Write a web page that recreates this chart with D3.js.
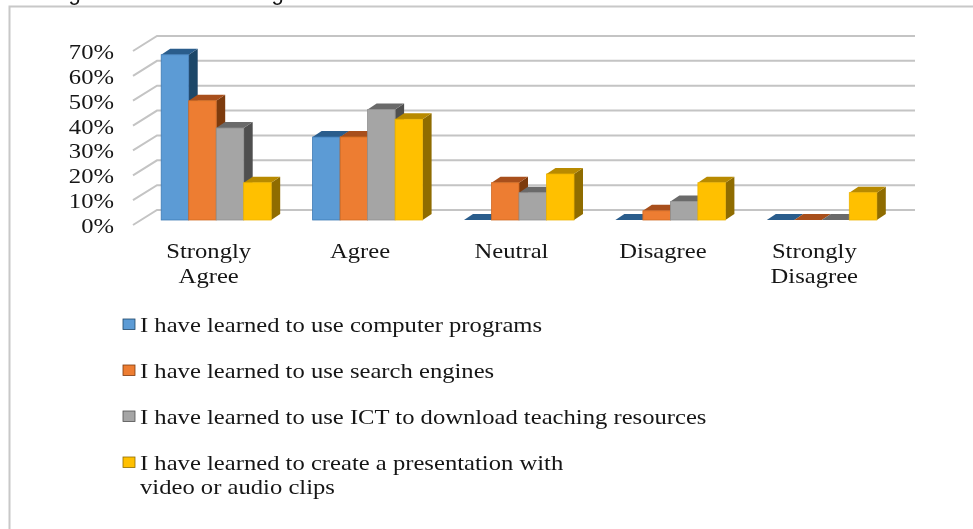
<!DOCTYPE html>
<html>
<head>
<meta charset="utf-8">
<script src="https://cdn.jsdelivr.net/npm/d3@7"></script>
<style>
  html, body { margin: 0; padding: 0; background: #fff; }
  svg { display: block; }
  text { font-family: "Liberation Serif", serif; fill: #141414; }
</style>
</head>
<body>
<div id="chart"></div>
<script>
const categories = ['Strongly Agree', 'Agree', 'Neutral', 'Disagree', 'Strongly Disagree']
const categoryLines = [['Strongly', 'Agree'], ['Agree'], ['Neutral'], ['Disagree'], ['Strongly', 'Disagree']]
const seriesNames = [
  'I have learned to use computer programs',
  'I have learned to use search engines',
  'I have learned to use ICT to download teaching resources',
  'I have learned to create a presentation with'
]
const computerPrograms = [66.5, 33.4, 0, 0, 0]
const searchEngines = [48, 33.4, 15, 3.7, 0]
const downloadResources = [37, 44.5, 11, 7.4, 0]
const presentation = [15, 40.5, 18.5, 15, 11]
const yTicks = [0, 10, 20, 30, 40, 50, 60, 70]

const seriesValues = [computerPrograms, searchEngines, downloadResources, presentation]
const colors = ['#5b9bd5', '#ed7d31', '#a5a5a5', '#ffc000']
const topColors = ['#2a5d8c', '#a8501a', '#6b6b6b', '#b88a00']
const sideColors = ['#1f4668', '#7d3a10', '#505050', '#8f6c00']
const edgeColors = ['#3f7ab5', '#d06a25', '#8f8f8f', '#eeb400']

const width = 973
const height = 529
const plot = { left: 133, right: 890, bottom: 225, top: 51 }
const depth = { x: 24, y: 15 }
const barDepth = { x: 9, y: 6 }
const barOffset = { x: 7.5, y: 5 }
const fontSize = 22
const textStretch = 1.12 // the picture is stretched sideways

const svg = d3.select('#chart').append('svg')
  .attr('width', width)
  .attr('height', height)

const defs = svg.append('defs')
defs.append('filter')
  .attr('id', 'soft')
  .attr('x', 0).attr('y', 0).attr('width', 1).attr('height', 1)
  .append('feGaussianBlur')
  .attr('stdDeviation', 0.35)

const root = svg.append('g').attr('filter', 'url(#soft)')

const y = d3.scaleLinear().domain([0, 70]).range([plot.bottom, plot.top])
const x = d3.scaleBand().domain(categories).range([plot.left, plot.right])
const inner = d3.scaleBand().domain(d3.range(4)).range([0, 110])

// background so the blur filter has something to sit on
root.append('rect')
  .attr('width', width)
  .attr('height', height)
  .attr('fill', '#fff')

// clipped line of body text above the figure
root.append('text')
  .attr('x', 16)
  .attr('y', -0.3)
  .attr('font-size', 22)
  .style('font-family', '"Liberation Sans", sans-serif')
  .text('findings are indicated in Figure 6.')

// frame
root.append('path')
  .attr('d', `M9.5,${height}V6.5H${width}`)
  .attr('fill', 'none')
  .attr('stroke', '#c8c8c8')
  .attr('stroke-width', 2)

// gridlines
const grid = root.append('g')
  .attr('fill', 'none')
  .attr('stroke', '#c4c4c4')
  .attr('stroke-width', 2)

grid.selectAll('path')
  .data(yTicks)
  .join('path')
  .attr('d', d => {
    const py = y(d)
    return `M${plot.left},${py}L${plot.left + depth.x},${py - depth.y}H${plot.right + depth.x + 1}`
  })

// value axis labels
root.append('g')
  .attr('font-size', fontSize)
  .attr('text-anchor', 'end')
  .selectAll('text')
  .data(yTicks)
  .join('text')
  .attr('transform', d => `translate(114,${y(d) + 8}) scale(${textStretch},1)`)
  .text(d => d + '%')

// bars, later series in front of the side of earlier ones
const bars = root.append('g')

categories.forEach((cat, c) => {
  seriesValues.forEach((values, s) => {
    const x0 = x(cat) + x.bandwidth() / 2 + barOffset.x - 55 + inner(s)
    const x1 = x0 + inner.bandwidth()
    const y0 = y(0) - barOffset.y
    const y1 = y(values[c]) - barOffset.y
    const g = bars.append('g')

    g.append('path')
      .attr('d', `M${x1},${y1}L${x1 + barDepth.x},${y1 - barDepth.y}V${y0 - barDepth.y}L${x1},${y0}Z`)
      .attr('fill', sideColors[s])
    g.append('path')
      .attr('d', `M${x0},${y1}L${x0 + barDepth.x},${y1 - barDepth.y}H${x1 + barDepth.x}L${x1},${y1}Z`)
      .attr('fill', topColors[s])
    if (values[c] > 0) {
      g.append('rect')
        .attr('x', x0)
        .attr('y', y1)
        .attr('width', inner.bandwidth())
        .attr('height', y0 - y1)
        .attr('fill', colors[s])
        .attr('stroke', edgeColors[s])
        .attr('stroke-width', 0.8)
    }
  })
})

// category labels
const catLabels = root.append('g')
  .attr('font-size', fontSize)
  .attr('text-anchor', 'middle')
  .selectAll('text')
  .data(categories)
  .join('text')
  .attr('transform', d => `translate(${x(d) + x.bandwidth() / 2},258) scale(${textStretch},1)`)

catLabels.selectAll('tspan')
  .data((d, i) => categoryLines[i])
  .join('tspan')
  .attr('x', 0)
  .attr('dy', (d, i) => i ? 25 : 0)
  .text(d => d)

// legend
const legendY = [324, 370, 416, 462]
const legend = root.append('g')

legend.selectAll('rect')
  .data(seriesNames)
  .join('rect')
  .attr('x', 123)
  .attr('y', (d, i) => legendY[i] - 5)
  .attr('width', 12)
  .attr('height', 10.5)
  .attr('fill', (d, i) => colors[i])
  .attr('stroke', (d, i) => sideColors[i])
  .attr('stroke-width', 0.8)

legend.selectAll('text.entry')
  .data(seriesNames)
  .join('text')
  .attr('class', 'entry')
  .attr('font-size', fontSize)
  .attr('transform', (d, i) => `translate(140,${legendY[i] + 7.5}) scale(${textStretch},1)`)
  .text(d => d)

legend.append('text')
  .attr('font-size', fontSize)
  .attr('transform', `translate(140,${legendY[3] + 32}) scale(${textStretch},1)`)
  .text('video or audio clips')
</script>
</body>
</html>
